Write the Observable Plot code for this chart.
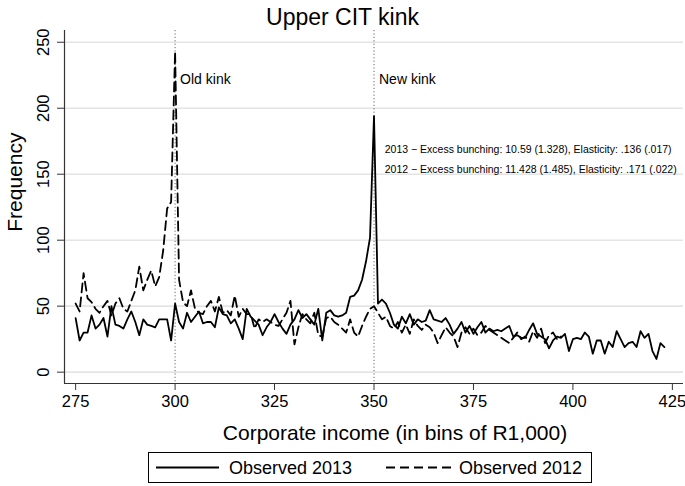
<!DOCTYPE html>
<html><head><meta charset="utf-8">
<script src="https://cdn.jsdelivr.net/npm/d3@7"></script>
<script src="https://cdn.jsdelivr.net/npm/@observablehq/plot@0.6"></script>
<style>
body{margin:0;background:#fff;font-family:"Liberation Sans",Arial,sans-serif;}
#wrap{position:relative;width:685px;height:486px;overflow:hidden;background:#fff;}
#title{position:absolute;left:0;top:0;width:685px;height:30px;text-align:center;font-size:23px;line-height:34px;color:#000;}
#chart{position:absolute;left:0;top:30px;}
#legend{position:absolute;left:148px;top:452px;}
</style></head><body>
<div id="wrap">
<div id="title">Upper CIT kink</div>
<div id="chart"></div>
<svg id="legend" width="444" height="31"></svg>
</div>
<script>
const binStart = 275;
const freq2013 = [41,24,30,30,43,33,36,41,27,50,36,35,33,40,46,38,28,40,36,35,34,40,40,40,24,
52,38,33,45,38,42,46,37,38,38,34,49,44,43,37,40,33,25,48,42,39,36,28,34,38,44,38,33,29,36,
40,47,41,44,40,36,48,24,45,47,43,42,43,45,57,58,62,70,84,102,
194,52,55,52,45,36,33,42,37,44,36,40,38,39,47,40,39,38,41,36,29,33,38,30,35,29,34,38,30,33,
31,32,31,33,35,27,28,26,26,32,37,29,27,25,18,24,27,26,29,16,
25,26,25,30,27,14,24,24,14,23,19,31,25,19,22,23,19,31,26,29,16,10,22,19];
const freq2012 = [52,46,75,56,53,48,45,50,54,43,52,56,48,46,54,62,80,62,70,77,65,72,92,124,129,
243,70,53,50,62,48,45,44,50,54,46,57,45,47,43,58,42,48,44,44,33,40,38,40,38,36,35,40,45,54,
21,34,44,40,37,45,28,27,41,42,38,36,33,30,40,30,27,35,42,48,
50,45,40,42,35,33,38,30,36,29,40,35,32,36,34,30,22,28,34,30,27,19,30,34,29,33,28,30,35,32,
30,28,26,24,22,26,30,25,27,23,31,26,33,22,28,30,25,27];
const seriesNames = ["Observed 2013", "Observed 2012"];
const xTicks = [275, 300, 325, 350, 375, 400, 425];
const yTicks = [0, 50, 100, 150, 200, 250];
const xDomain = [272.2, 427.8];
const yDomain = [-8.6, 258.9];
const kinks = [300, 350];
const kinkLabels = ["Old kink", "New kink"];
const kinkLabelY = 222;
const statLines = ["2013 \u2212 Excess bunching: 10.59 (1.328), Elasticity: .136 (.017)",
                   "2012 \u2212 Excess bunching: 11.428 (1.485), Elasticity: .171 (.022)"];
const statX = 352.7;
const statY = [169, 153.6];
const yTitle = "Frequency";
const yTitleAt = 144;
const xTitle = "Corporate income (in bins of R1,000)";

const rows2013 = freq2013.map((v, i) => ({x: binStart + i, y: v, s: seriesNames[0]}));
const rows2012 = freq2012.map((v, i) => ({x: binStart + i, y: v, s: seriesNames[1]}));
const font = "'Liberation Sans', Arial, sans-serif";

const chart = Plot.plot({
  width: 685, height: 412,
  marginLeft: 64, marginRight: 2, marginTop: 0, marginBottom: 59,
  x: {domain: xDomain},
  y: {domain: yDomain},
  style: {fontFamily: font, background: "white", overflow: "visible", color: "#000"},
  marks: [
    Plot.ruleY(yTicks, {stroke: "#e4e4e4", strokeWidth: 1.6}),
    Plot.ruleX(kinks, {stroke: "#666", strokeWidth: 1, strokeDasharray: "1.2,2.2"}),
    Plot.line(rows2012, {x: "x", y: "y", stroke: "#000", strokeWidth: 1.8, strokeDasharray: "9,5"}),
    Plot.line(rows2013, {x: "x", y: "y", stroke: "#000", strokeWidth: 1.8}),
    Plot.ruleX([xDomain[0]], {stroke: "#333", strokeWidth: 1.2}),
    Plot.ruleY([yDomain[0]], {stroke: "#333", strokeWidth: 1.2}),
    Plot.axisX(xTicks, {tickSize: 7, tickPadding: 5, fontSize: 16.5, label: null, stroke: "#333", color: "#000"}),
    Plot.axisY(yTicks, {tickSize: 7, tickFormat: () => "", label: null, stroke: "#333"}),
    Plot.text(yTicks, {y: d => d, frameAnchor: "left", dx: -21, rotate: -90, textAnchor: "middle", text: d => String(d), fontSize: 16.5, fill: "#000"}),
    Plot.text([yTitle], {y: () => yTitleAt, frameAnchor: "left", dx: -49, rotate: -90, textAnchor: "middle", text: d => d, fontSize: 21, fill: "#000"}),
    Plot.text([xTitle], {frameAnchor: "bottom", dx: 21, dy: 56, textAnchor: "middle", text: d => d, fontSize: 21, fill: "#000"}),
    Plot.text(kinks, {x: d => d, y: () => kinkLabelY, text: (d, i) => kinkLabels[i], textAnchor: "start", dx: 5, fontSize: 14, fill: "#000"}),
    Plot.text(statLines, {x: () => statX, y: (d, i) => statY[i], text: d => d, textAnchor: "start", fontSize: 10.5, fill: "#000"})
  ]
});
document.getElementById("chart").appendChild(chart);

// legend
const lg = d3.select("#legend");
lg.append("rect").attr("x", 0.5).attr("y", 0.5).attr("width", 443).attr("height", 30)
  .attr("fill", "white").attr("stroke", "#000").attr("stroke-width", 1);
const items = [{x0: 8, x1: 71, tx: 81, dash: null}, {x0: 238, x1: 303, tx: 311, dash: "9,5"}];
items.forEach((it, i) => {
  lg.append("line").attr("x1", it.x0).attr("x2", it.x1).attr("y1", 15.5).attr("y2", 15.5)
    .attr("stroke", "#000").attr("stroke-width", 1.8).attr("stroke-dasharray", it.dash);
  lg.append("text").attr("x", it.tx).attr("y", 15.5).attr("dy", "0.35em")
    .attr("font-family", font).attr("font-size", 18).attr("fill", "#000").text(seriesNames[i]);
});
</script>
</body></html>
